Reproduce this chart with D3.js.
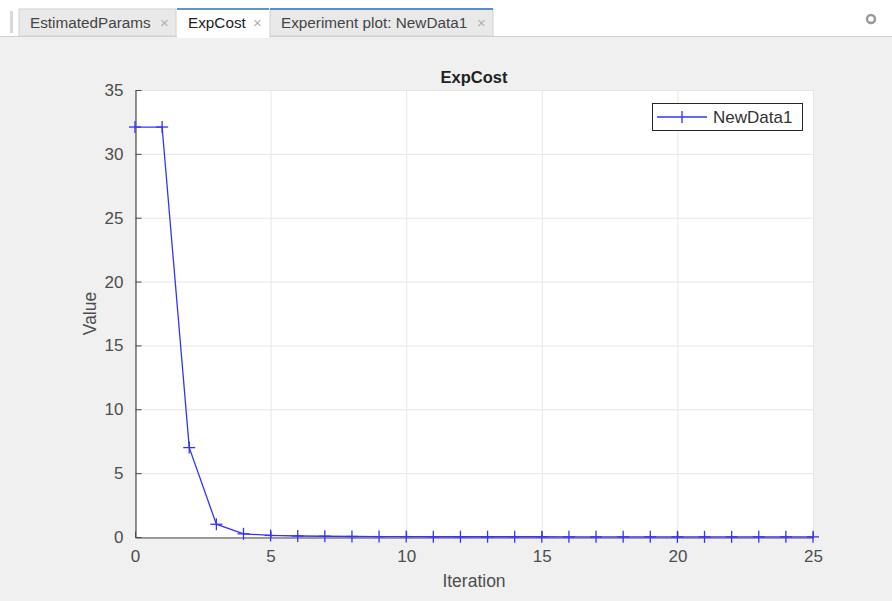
<!DOCTYPE html>
<html><head><meta charset="utf-8">
<script src="https://cdn.jsdelivr.net/npm/d3@7"></script>
<style>
body{margin:0;background:#f0f0f0;font-family:"Liberation Sans",Arial,sans-serif;}
svg{display:block;}
</style></head>
<body>
<svg id="c" width="892" height="601"></svg>
<script>
const tabs = ["EstimatedParams", "ExpCost", "Experiment plot: NewData1"];
const activeTab = "ExpCost";
const iterations = d3.range(0, 26);
const costValues = [32.1, 32.1, 7.0, 1.0, 0.25, 0.12, 0.08, 0.06, 0.04, 0.03, 0.03, 0.02, 0.02, 0.02, 0.02, 0.02, 0.01, 0.01, 0.01, 0.01, 0.01, 0.01, 0.01, 0.01, 0.01, 0.01];
const seriesName = "NewData1";
const xTicks = [0, 5, 10, 15, 20, 25];
const yTicks = [0, 5, 10, 15, 20, 25, 30, 35];
const title = "ExpCost", xLabel = "Iteration", yLabel = "Value";

const svg = d3.select("#c");
// tab bar
svg.append("rect").attr("x",0).attr("y",0).attr("width",892).attr("height",36).attr("fill","#ffffff");
svg.append("rect").attr("x",10).attr("y",11).attr("width",3).attr("height",22).attr("fill","#d8d8d8");
const tabX = [19, 177, 270], tabW = [157, 92, 223];
tabs.forEach((t,i)=>{
  const act = t===activeTab;
  svg.append("rect").attr("x",tabX[i]).attr("y",9).attr("width",tabW[i]).attr("height",act?28:27)
    .attr("fill",act?"#ffffff":"#e9e9e9").attr("stroke",act?"none":"#cfcfcf");
  if(i>0) svg.append("line").attr("x1",tabX[i]).attr("x2",tabX[i]+tabW[i]).attr("y1",9).attr("y2",9)
    .attr("stroke","#2f6fbd").attr("stroke-width",1.5);
  svg.append("text").attr("x",tabX[i]+11).attr("y",28).attr("font-size",15.3).attr("fill",act?"#222":"#444").text(t);
  svg.append("text").attr("x",tabX[i]+tabW[i]-16).attr("y",28).attr("font-size",15).attr("fill","#b0b0b0").text("×");
});
svg.append("line").attr("x1",0).attr("x2",892).attr("y1",36.5).attr("y2",36.5).attr("stroke","#d0d0d0");
svg.append("rect").attr("x",177).attr("y",35).attr("width",92).attr("height",3).attr("fill","#fff");
svg.append("circle").attr("cx",871).attr("cy",19).attr("r",4).attr("fill","none").attr("stroke","#9a9a9a").attr("stroke-width",2.5);

// plot
const L=135, R=813, T=90, B=537;
const x = d3.scaleLinear().domain([0,25]).range([L,R]);
const y = d3.scaleLinear().domain([0,35]).range([B,T]);
svg.append("rect").attr("x",L).attr("y",T).attr("width",R-L).attr("height",B-T).attr("fill","#fff");
const g = svg.append("g");
g.selectAll(".gx").data(xTicks).join("line").attr("x1",d=>x(d)+0.5).attr("x2",d=>x(d)+0.5).attr("y1",T).attr("y2",B).attr("stroke","#e6e6e6");
g.selectAll(".gy").data(yTicks).join("line").attr("y1",d=>y(d)+0.5).attr("y2",d=>y(d)+0.5).attr("x1",L).attr("x2",R).attr("stroke","#e6e6e6");

const xAxis = d3.axisBottom(x).tickValues(xTicks).tickSizeInner(-6).tickSizeOuter(0).tickPadding(12);
const yAxis = d3.axisLeft(y).tickValues(yTicks).tickSizeInner(-6).tickSizeOuter(0).tickPadding(12);
const ax = svg.append("g").attr("transform",`translate(0,${B+0.5})`).call(xAxis);
const ay = svg.append("g").attr("transform",`translate(${L+0.5},0)`).call(yAxis);
[ax,ay].forEach(a=>{
  a.select(".domain").attr("stroke","#4a4a4a").attr("stroke-width",1.2);
  a.selectAll(".tick line").attr("stroke","#4a4a4a");
  a.selectAll("text").attr("font-size",17).attr("fill","#4d4d4d").attr("font-family","Liberation Sans, Arial, sans-serif");
});

const line = d3.line().x((d,i)=>x(iterations[i])).y(d=>y(d));
svg.append("path").datum(costValues).attr("d",line).attr("fill","none").attr("stroke","#3333ff").attr("stroke-width",1.3);
const m = svg.append("g").selectAll("g").data(costValues).join("g")
  .attr("transform",(d,i)=>`translate(${x(iterations[i])},${y(d)})`);
m.append("line").attr("x1",-6).attr("x2",6).attr("stroke","#3333ff").attr("stroke-width",1.3);
m.append("line").attr("y1",-6).attr("y2",6).attr("stroke","#3333ff").attr("stroke-width",1.3);

svg.append("text").attr("x",(L+R)/2).attr("y",83).attr("text-anchor","middle").attr("font-size",16.5).attr("font-weight","bold").attr("fill","#222").text(title);
svg.append("text").attr("x",(L+R)/2).attr("y",587).attr("text-anchor","middle").attr("font-size",17.5).attr("fill","#4d4d4d").text(xLabel);
svg.append("text").attr("transform",`translate(96,${(T+B)/2}) rotate(-90)`).attr("text-anchor","middle").attr("font-size",17.5).attr("fill","#4d4d4d").text(yLabel);

// legend
const lg = svg.append("g").attr("transform","translate(652,103)");
lg.append("rect").attr("x",0.5).attr("y",0.5).attr("width",150).attr("height",27).attr("fill","#fff").attr("stroke","#262626").attr("stroke-width",1);
lg.append("line").attr("x1",5).attr("x2",55).attr("y1",14).attr("y2",14).attr("stroke","#3333ff").attr("stroke-width",1.3);
lg.append("line").attr("x1",30).attr("x2",30).attr("y1",8).attr("y2",20).attr("stroke","#3333ff").attr("stroke-width",1.3);
lg.append("text").attr("x",61).attr("y",20).attr("font-size",17).attr("fill","#333").text(seriesName);
</script>
</body></html>
